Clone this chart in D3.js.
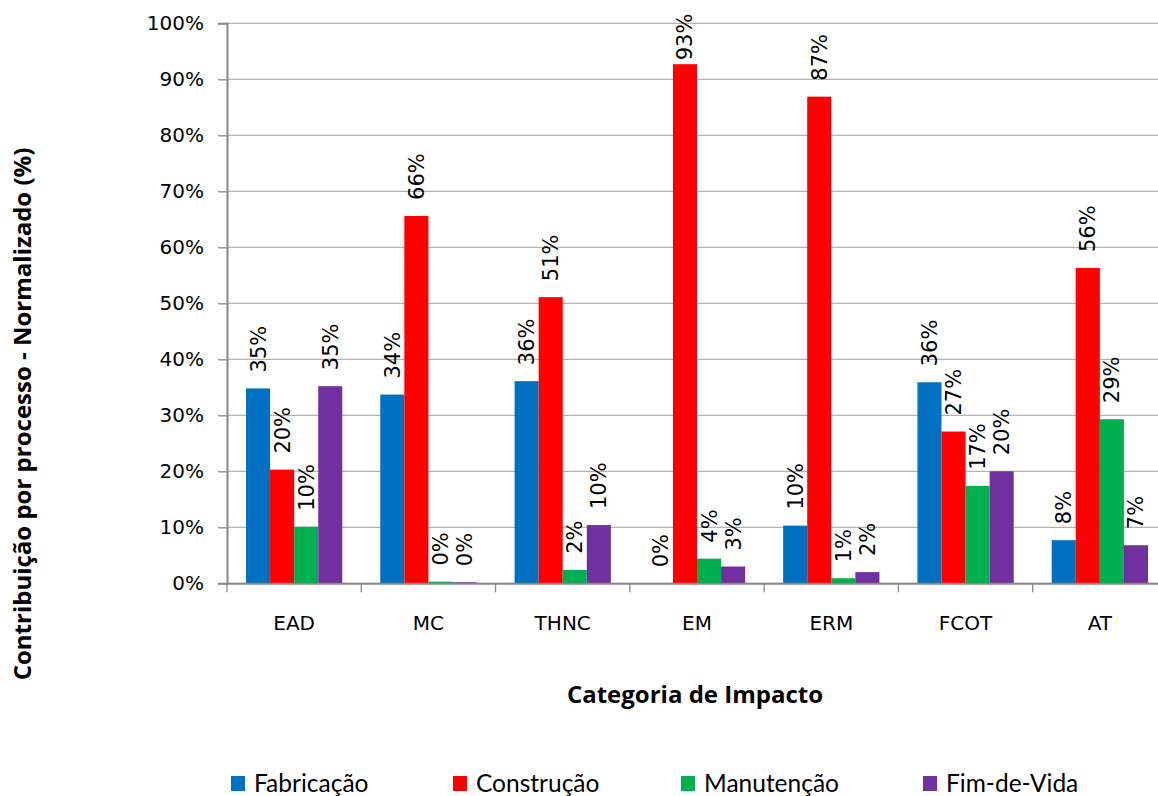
<!DOCTYPE html>
<html>
<head>
<meta charset="utf-8">
<script src="https://cdn.jsdelivr.net/npm/d3@7"></script>
<style>
  body { margin: 0; background: #fff; }
  svg { display: block; }
</style>
</head>
<body>
<svg id="chart" width="1158" height="796"></svg>
<script>
// categorias e series (valores em %)
var categories = ["EAD", "MC", "THNC", "EM", "ERM", "FCOT", "AT"];
var series = ["Fabricação", "Construção", "Manutenção", "Fim-de-Vida"];
var fabricacao = [34.8, 33.7, 36.1, 0.0, 10.3, 35.9, 7.7];
var construcao = [20.3, 65.6, 51.1, 92.7, 86.9, 27.1, 56.3];
var manutencao = [10.1, 0.3, 2.4, 4.4, 0.9, 17.4, 29.3];
var fimDeVida = [35.2, 0.2, 10.4, 3.0, 2.0, 20.0, 6.8];
var colors = ["#0070C0", "#FF0000", "#00B050", "#7030A0"];
var yTicks = [0, 10, 20, 30, 40, 50, 60, 70, 80, 90, 100];

var values = [fabricacao, construcao, manutencao, fimDeVida];

var margin = {left: 227, top: 23.3};
var width = 940, height = 560;

var svg = d3.select("#chart");
var g = svg.append("g").attr("transform", "translate(" + margin.left + "," + margin.top + ")");

var x0 = d3.scaleBand().domain(categories).range([0, width]);
var bw = x0.bandwidth();
var x1 = d3.scaleBand().domain(series).range([bw * 0.1415, bw * 0.8585]);
var y = d3.scaleLinear().domain([0, 100]).range([height, 0]);

// grid
g.selectAll(".grid").data(yTicks).enter().append("line")
  .attr("x1", 0).attr("x2", width)
  .attr("y1", function(d){ return y(d); })
  .attr("y2", function(d){ return y(d); })
  .attr("stroke", "#b3b3b3").attr("stroke-width", 1.3);

// bars
var rows = [];
categories.forEach(function(c, i){
  series.forEach(function(s, j){
    rows.push({cat: c, ser: s, v: values[j][i], color: colors[j]});
  });
});

g.selectAll(".bar").data(rows).enter().append("rect")
  .attr("x", function(d){ return x0(d.cat) + x1(d.ser); })
  .attr("y", function(d){ return y(d.v); })
  .attr("width", x1.bandwidth())
  .attr("height", function(d){ return height - y(d.v); })
  .attr("fill", function(d){ return d.color; });

// data labels
var fmt = function(v){ return d3.format(".0%")(v / 100); };
g.selectAll(".lbl").data(rows).enter().append("text")
  .attr("transform", function(d){
    var cx = x0(d.cat) + x1(d.ser) + x1.bandwidth() / 2 + 7.5;
    var by = Math.max(y(d.v) - 16, 37);
    return "translate(" + cx + "," + by + ") rotate(-90)";
  })
  .attr("font-family", "DejaVu Sans")
  .attr("font-size", 21)
  .attr("fill", "#000")
  .text(function(d){ return fmt(d.v); });

// y axis
var yAxis = g.append("g")
  .call(d3.axisLeft(y).tickValues(yTicks).tickSize(9).tickPadding(14)
    .tickFormat(function(d){ return d + "%"; }));
yAxis.select(".domain").attr("stroke", "#888").attr("stroke-width", 2);
yAxis.selectAll(".tick line").attr("stroke", "#888").attr("stroke-width", 1.3);
yAxis.selectAll("text").attr("font-family", "DejaVu Sans").attr("font-size", 20).attr("fill", "#000");

// x axis
var xAxis = g.append("g").attr("transform", "translate(0," + height + ")")
  .call(d3.axisBottom(x0).tickSize(0).tickPadding(33));
xAxis.select(".domain").attr("stroke", "#888").attr("stroke-width", 2);
xAxis.selectAll("text").attr("font-family", "DejaVu Sans").attr("font-size", 20).attr("fill", "#000");
var bounds = categories.map(function(c){ return x0(c); }).concat([width]);
g.selectAll(".xtick").data(bounds).enter().append("line")
  .attr("x1", function(d){ return d; }).attr("x2", function(d){ return d; })
  .attr("y1", height).attr("y2", height + 9)
  .attr("stroke", "#888").attr("stroke-width", 1.3);

// axis titles
svg.append("text")
  .attr("x", margin.left + width / 2 - 2).attr("y", 703)
  .attr("text-anchor", "middle")
  .attr("font-family", "Open Sans").attr("font-weight", "bold").attr("font-size", 24)
  .text("Categoria de Impacto");

svg.append("text")
  .attr("transform", "translate(31,414) rotate(-90)")
  .attr("text-anchor", "middle")
  .attr("font-family", "Open Sans").attr("font-weight", "bold").attr("font-size", 24)
  .text("Contribuição por processo - Normalizado (%)");

// legend
var legendX = [231, 453, 681, 923];
var leg = svg.selectAll(".leg").data(series).enter().append("g")
  .attr("transform", function(d, i){ return "translate(" + legendX[i] + ",776)"; });
leg.append("rect").attr("width", 14).attr("height", 15)
  .attr("fill", function(d, i){ return colors[i]; });
leg.append("text").attr("x", 23).attr("y", 16)
  .attr("font-family", "Lato").attr("font-size", 24.5)
  .text(function(d){ return d; });
</script>
</body>
</html>
